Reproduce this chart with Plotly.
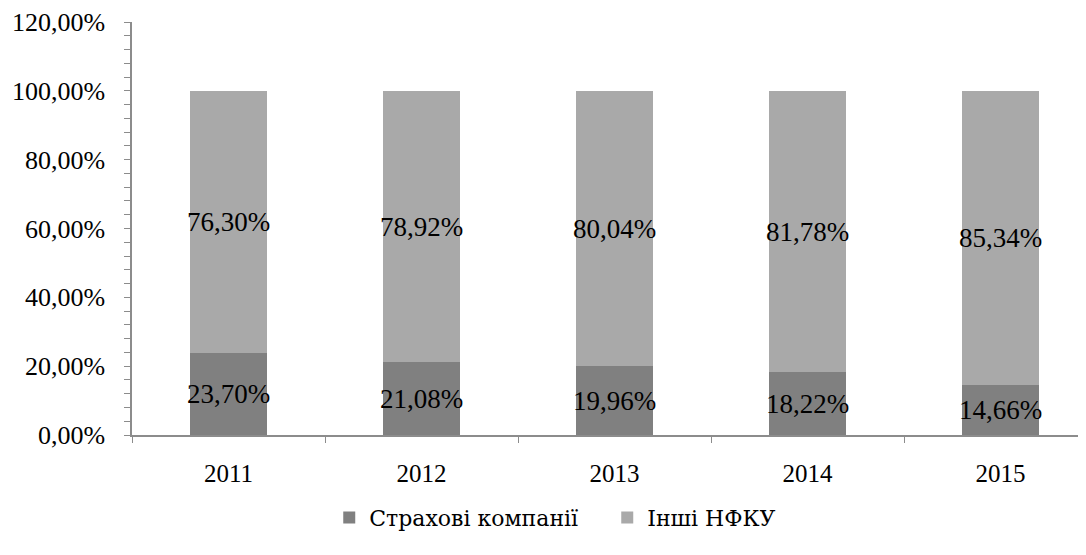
import plotly.graph_objects as go

years = ["2011", "2012", "2013", "2014", "2015"]
insurance = [23.70, 21.08, 19.96, 18.22, 14.66]
other_nfku = [76.30, 78.92, 80.04, 81.78, 85.34]
series_names = ["Страхові компанії", "Інші НФКУ"]
y_ticks = [0, 20, 40, 60, 80, 100, 120]

def pct(v):
    return f"{v:.2f}%".replace(".", ",")

FONT = "Liberation Serif"
LFONT = "DejaVu Serif"
FS = 27

fig = go.Figure()
fig.add_trace(go.Bar(
    x=years, y=insurance, name=series_names[0],
    marker=dict(color="#808080", line=dict(width=0)),
    text=[pct(v) for v in insurance], textposition="inside",
    insidetextanchor="middle", textangle=0,
    textfont=dict(color="black", family=FONT, size=FS),
    insidetextfont=dict(color="black", family=FONT, size=FS),
))
fig.add_trace(go.Bar(
    x=years, y=other_nfku, name=series_names[1],
    marker=dict(color="#a9a9a9", line=dict(width=0)),
    text=[pct(v) for v in other_nfku], textposition="inside",
    insidetextanchor="middle", textangle=0,
    textfont=dict(color="black", family=FONT, size=FS),
    insidetextfont=dict(color="black", family=FONT, size=FS),
))

fig.update_layout(
    width=1078, height=547,
    barmode="stack", bargap=0.6,
    plot_bgcolor="white", paper_bgcolor="white",
    margin=dict(l=124, r=0, t=14, b=120, autoexpand=False),
    font=dict(family=FONT, size=FS, color="black"),
    uniformtext=dict(minsize=FS, mode="show"),
    showlegend=True,
    legend=dict(orientation="h", x=0.298, xanchor="left", xref="container",
                y=0.068, yanchor="middle", yref="container",
                entrywidth=233, entrywidthmode="pixels",
                font=dict(family=LFONT, size=22, color="black"), traceorder="normal"),
    hovermode=False,
)
fig.update_xaxes(
    type="category", range=[-0.5, 4.443], automargin=False,
    showline=True, linecolor="#8c8c8c", linewidth=1.5,
    ticks="outside", tickson="boundaries", ticklen=6, tickcolor="#8c8c8c",
    ticklabelstandoff=15, showgrid=False,
    tickfont=dict(family=FONT, size=25, color="black"),
)
fig.update_yaxes(
    range=[0, 120], automargin=False, ticklabeloverflow="allow",
    tickvals=y_ticks, ticktext=[pct(v) for v in y_ticks],
    showline=True, linecolor="#8c8c8c", linewidth=1.5,
    ticks="outside", ticklen=6, tickcolor="#8c8c8c",
    minor=dict(dtick=4, ticks="outside", ticklen=6, tickcolor="#8c8c8c", showgrid=False),
    showgrid=False, zeroline=False, ticklabelstandoff=14,
    tickfont=dict(family=FONT, size=26, color="black"),
)

fig.write_html("out.html")
